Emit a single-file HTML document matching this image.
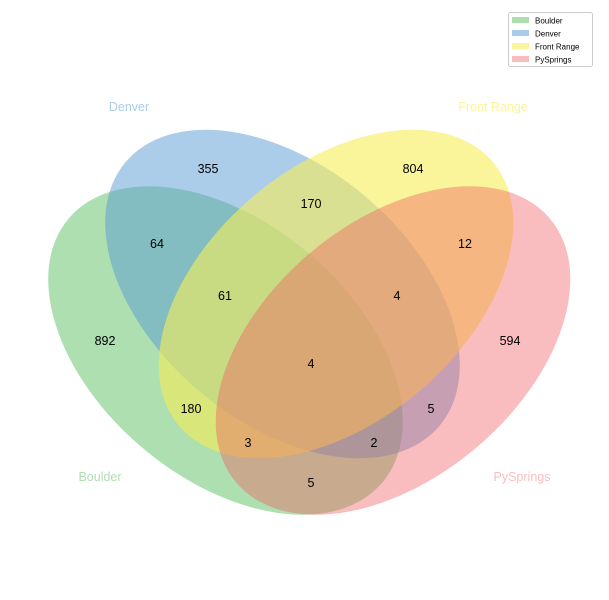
<!DOCTYPE html>
<html><head><meta charset="utf-8"><style>
html,body{margin:0;padding:0;background:#fff;}
svg{display:block;font-family:"Liberation Sans","DejaVu Sans",sans-serif;}
</style></head><body>
<svg width="609" height="600" viewBox="0 0 609 600" xmlns="http://www.w3.org/2000/svg">
<rect width="609" height="600" fill="#fff"/>
<ellipse cx="225.5" cy="350.5" rx="205" ry="128" transform="rotate(40 225.5 350.5)" fill="rgb(92,192,98)" fill-opacity="0.5"/>
<ellipse cx="282.5" cy="294" rx="205" ry="128" transform="rotate(40 282.5 294)" fill="rgb(90,155,212)" fill-opacity="0.5"/>
<ellipse cx="336" cy="294" rx="205" ry="128" transform="rotate(-40 336 294)" fill="rgb(246,236,86)" fill-opacity="0.6"/>
<ellipse cx="393" cy="350.5" rx="205" ry="128" transform="rotate(-40 393 350.5)" fill="rgb(241,90,96)" fill-opacity="0.4"/>
<g transform="translate(0,1)">
<g font-size="12.5" fill="#000" text-anchor="middle" dominant-baseline="central">
<text x="208" y="168">355</text>
<text x="413" y="168">804</text>
<text x="311" y="203">170</text>
<text x="157" y="243">64</text>
<text x="465" y="243">12</text>
<text x="225" y="295">61</text>
<text x="397" y="295">4</text>
<text x="105" y="340">892</text>
<text x="510" y="340">594</text>
<text x="311" y="363">4</text>
<text x="191" y="408">180</text>
<text x="431" y="408">5</text>
<text x="248" y="442">3</text>
<text x="374" y="442">2</text>
<text x="311" y="482">5</text>
</g>
<g font-size="12.5" text-anchor="middle" dominant-baseline="central">
<text x="129" y="106" fill="rgb(90,155,212)" fill-opacity="0.5">Denver</text>
<text x="493" y="106" fill="rgb(246,236,86)" fill-opacity="0.6">Front Range</text>
<text x="100" y="476" fill="rgb(92,192,98)" fill-opacity="0.5">Boulder</text>
<text x="522" y="476" fill="rgb(241,90,96)" fill-opacity="0.4">PySprings</text>
</g>
</g>
<g>
<rect x="508.5" y="12.5" width="84" height="54" rx="2" fill="#fff" fill-opacity="0.8" stroke="#ccc"/>
<rect x="512" y="17" width="17" height="6" fill="rgb(92,192,98)" fill-opacity="0.5"/>
<rect x="512" y="30" width="17" height="6" fill="rgb(90,155,212)" fill-opacity="0.5"/>
<rect x="512" y="43" width="17" height="6" fill="rgb(246,236,86)" fill-opacity="0.6"/>
<rect x="512" y="56" width="17" height="6" fill="rgb(241,90,96)" fill-opacity="0.4"/>
<g font-size="8" fill="#000" dominant-baseline="central">
<text x="535" y="21">Boulder</text>
<text x="535" y="34">Denver</text>
<text x="535" y="47">Front Range</text>
<text x="535" y="60">PySprings</text>
</g>
</g>
</svg>
</body></html>
